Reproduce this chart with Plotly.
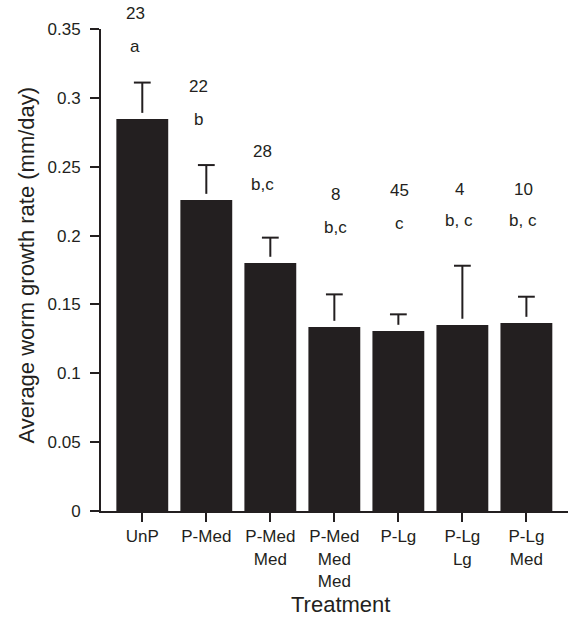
import plotly.graph_objects as go

# ---- data ----
categories = ["UnP", "P-Med", "P-Med<br>Med", "P-Med<br>Med<br>Med", "P-Lg", "P-Lg<br>Lg", "P-Lg<br>Med"]
growth_rate = [0.2846, 0.2258, 0.1801, 0.1336, 0.1307, 0.1351, 0.1365]
std_error = [0.0265, 0.0254, 0.0184, 0.0237, 0.0121, 0.0430, 0.0191]
sample_size = ["23", "22", "28", "8", "45", "4", "10"]
group_letters = ["a", "b", "b,c", "b,c", "c", "b, c", "b, c"]
n_label_y = [0.3609, 0.3079, 0.2609, 0.2295, 0.2324, 0.2338, 0.2338]
letter_label_y = [0.3371, 0.2846, 0.2374, 0.2057, 0.2091, 0.2106, 0.2106]
ytick_vals = [0, 0.05, 0.1, 0.15, 0.2, 0.25, 0.3, 0.35]
ytick_text = ["0", "0.05", "0.1", "0.15", "0.2", "0.25", "0.3", "0.35"]
Y_MAX = 0.35

# ---- style ----
INK = "#231f20"
FONT = "Liberation Sans, Arial, Helvetica, sans-serif"
GAP = 0.0045  # visual gap between bar top and error stem
label_xshift = [-7, -8, -8, 1, 1, -3, -3]

x = list(range(len(categories)))
tops = [v + e for v, e in zip(growth_rate, std_error)]
stem_len = [e - GAP for e in std_error]

fig = go.Figure()
fig.add_trace(go.Bar(
    x=x, y=growth_rate, width=0.81,
    marker=dict(color=INK, line=dict(width=0)),
    hoverinfo="skip", showlegend=False,
))
fig.add_trace(go.Scatter(
    x=x, y=tops, mode="markers",
    marker=dict(symbol="line-ew", size=12, color=INK, line=dict(color=INK, width=2)),
    error_y=dict(type="data", symmetric=False, array=[0] * len(x), arrayminus=stem_len,
                 width=0, thickness=2, color=INK),
    hoverinfo="skip", showlegend=False, cliponaxis=False,
))

annotations = []
for i in x:
    for txt, yv in ((sample_size[i], n_label_y[i]), (group_letters[i], letter_label_y[i])):
        annotations.append(dict(x=i, y=yv / Y_MAX, xref="x", yref="paper", text=txt,
                                showarrow=False, xshift=label_xshift[i],
                                xanchor="center", yanchor="middle",
                                font=dict(family=FONT, size=17, color=INK)))

annotations.append(dict(x=-0.16, y=0.51, xref="paper", yref="paper",
                        text="Average worm growth rate (mm/day)", textangle=-90,
                        showarrow=False, xanchor="center", yanchor="middle",
                        font=dict(family=FONT, size=22, color=INK)))
annotations.append(dict(x=0.513, y=-0.193, xref="paper", yref="paper",
                        text="Treatment", showarrow=False, xanchor="center", yanchor="middle",
                        font=dict(family=FONT, size=22, color=INK)))

fig.update_layout(
    width=568, height=620,
    margin=dict(l=101, r=0, t=29, b=109),
    paper_bgcolor="white", plot_bgcolor="white",
    font=dict(family=FONT, size=17, color=INK),
    annotations=annotations,
    xaxis=dict(
        range=[-0.645, 6.65], tickmode="array", tickvals=x, ticktext=categories,
        showline=True, linecolor=INK, linewidth=2, ticks="outside", ticklen=9,
        tickwidth=2, tickcolor=INK, showgrid=False, zeroline=False,
        tickfont=dict(family=FONT, size=17, color=INK),
    ),
    yaxis=dict(
        range=[0, Y_MAX], tickmode="array", tickvals=ytick_vals, ticktext=ytick_text,
        showline=True, linecolor=INK, linewidth=2, ticks="outside", ticklen=9,
        tickwidth=2, tickcolor=INK, showgrid=False, zeroline=False,
        ticklabelstandoff=6,
        tickfont=dict(family=FONT, size=17, color=INK),
    ),
)

fig.write_html("out.html", config={"displayModeBar": False},
               post_script="document.body.style.margin='0px';")
